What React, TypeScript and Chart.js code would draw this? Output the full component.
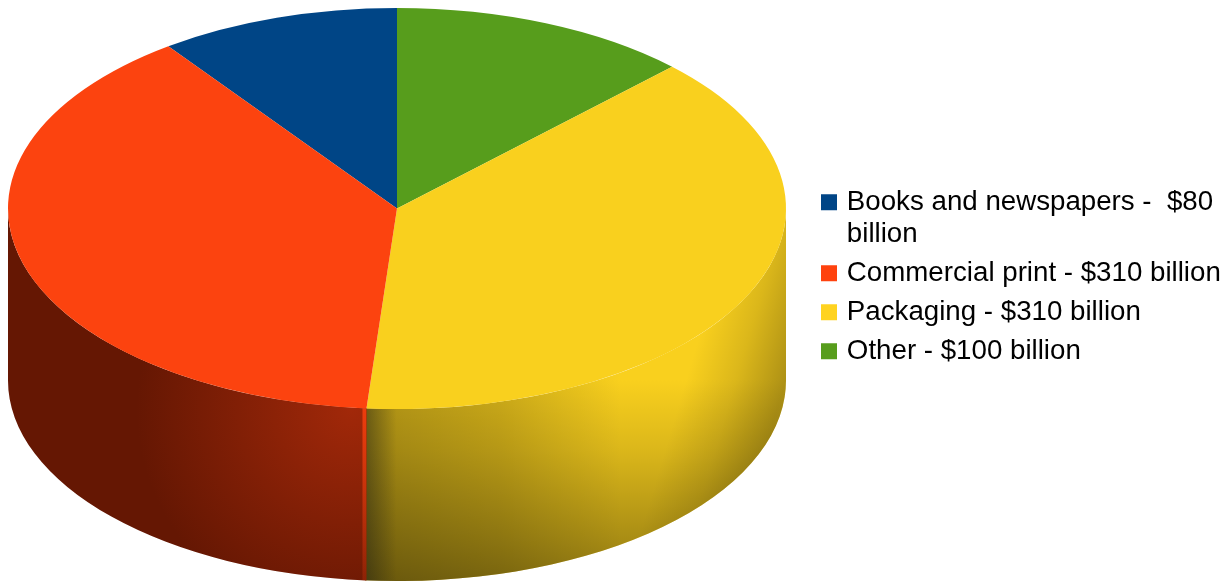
import React, { useEffect, useRef } from "react";
import { Chart, registerables } from "chart.js";

Chart.register(...registerables);

// Slices in clockwise order, starting from the rotation angle.
const sliceNames = ["Books and newspapers", "Other", "Packaging", "Commercial print"];
const sliceValues = [80, 100, 310, 310];
const topColors = ["#004586", "#579d1c", "#f9d01e", "#fc430f"];

// Legend rows, in the order they are listed beside the pie.
const legendOrder = ["Books and newspapers", "Commercial print", "Packaging", "Other"];
const legendText = [
  ["Books and newspapers -  $80", "billion"],
  ["Commercial print - $310 billion"],
  ["Packaging - $310 billion"],
  ["Other - $100 billion"],
];
const legendColors = ["#004586", "#ff420e", "#ffd320", "#579d1c"];

const DEPTH = 172;
const X_STRETCH = 778 / 401;

type Rim = { cx: number; cy: number; rx: number; ry: number; a0: number; a1: number };

function wallPath(ctx: CanvasRenderingContext2D, r: Rim) {
  ctx.beginPath();
  ctx.ellipse(r.cx, r.cy, r.rx, r.ry, 0, r.a0, r.a1);
  ctx.ellipse(r.cx, r.cy + DEPTH, r.rx, r.ry, 0, r.a1, r.a0, true);
  ctx.closePath();
}

function shadeRed(ctx: CanvasRenderingContext2D, r: Rim, seamX: number) {
  const bottom = r.cy + r.ry + DEPTH;
  ctx.fillStyle = "#651703";
  ctx.fillRect(r.cx - r.rx, r.cy, r.rx * 2, r.ry + DEPTH);
  const top = r.cy + r.ry;
  const glow = ctx.createRadialGradient(seamX - 15, top, 0, seamX - 15, top, 215);
  glow.addColorStop(0, "rgba(168,42,10,0.9)");
  glow.addColorStop(1, "rgba(168,42,10,0)");
  ctx.fillStyle = glow;
  ctx.fillRect(r.cx - r.rx, r.cy, r.rx * 2, r.ry + DEPTH);
  const sliver = ctx.createLinearGradient(0, top, 0, bottom);
  sliver.addColorStop(0, "rgba(255,66,14,0.8)");
  sliver.addColorStop(1, "rgba(255,66,14,0.2)");
  ctx.fillStyle = sliver;
  ctx.fillRect(seamX - 4, top - 4, 4, DEPTH + 8);
}

function shadeYellow(ctx: CanvasRenderingContext2D, r: Rim, seamX: number) {
  const left = seamX - 2;
  const w = r.cx + r.rx - left;
  const y = r.cy;
  const h = r.ry + DEPTH;
  ctx.fillStyle = "#f9d01e";
  ctx.fillRect(left, y, w, h);

  ctx.globalCompositeOperation = "multiply";

  const across = ctx.createLinearGradient(seamX, 0, 620, 0);
  across.addColorStop(0, "rgb(184,184,184)");
  across.addColorStop(0.53, "rgb(212,212,212)");
  across.addColorStop(1, "rgb(255,255,255)");
  ctx.fillStyle = across;
  ctx.fillRect(left, y, w, h);

  const down = ctx.createLinearGradient(0, 380, 0, 581);
  down.addColorStop(0, "rgb(255,255,255)");
  down.addColorStop(0.35, "rgb(224,224,224)");
  down.addColorStop(0.8, "rgb(172,172,172)");
  down.addColorStop(1, "rgb(148,148,148)");
  ctx.fillStyle = down;
  ctx.fillRect(left, y, w, h);

  const rimShade = ctx.createLinearGradient(800, 0, 891.7, 27.5);
  rimShade.addColorStop(0, "rgb(255,255,255)");
  rimShade.addColorStop(0.5, "rgb(224,224,224)");
  rimShade.addColorStop(1, "rgb(178,178,178)");
  ctx.fillStyle = rimShade;
  ctx.fillRect(left, y, w, h);

  ctx.globalCompositeOperation = "source-over";

  const seam = ctx.createLinearGradient(seamX, 0, seamX + 30, 0);
  seam.addColorStop(0, "rgba(30,30,20,0.45)");
  seam.addColorStop(1, "rgba(30,30,20,0)");
  ctx.fillStyle = seam;
  ctx.fillRect(seamX, y, 30, h);
}

// Draws the visible cylinder wall under the pie, then stretches the round
// arcs that Chart.js draws into the flattened top face.
const extrudedPie = {
  id: "extrudedPie",
  afterLayout(chart: any) {
    const area = chart.chartArea;
    area.right = 786;
    area.width = area.right - area.left;
    chart.legend.left = 818;
    chart.legend.top = 181.5;
  },
  beforeDatasetsDraw(chart: any) {
    const { ctx } = chart;
    const arcs = chart.getDatasetMeta(0).data;
    arcs.forEach((arc: any, i: number) => {
      const { x, y, startAngle, endAngle, outerRadius } = arc.getProps(
        ["x", "y", "startAngle", "endAngle", "outerRadius"],
        true
      );
      const isPackaging = sliceNames[i] === "Packaging";
      for (const shift of [-2 * Math.PI, 0, 2 * Math.PI]) {
        const a0 = Math.max(startAngle + shift, 0);
        const a1 = Math.min(endAngle + shift, Math.PI);
        if (a1 <= a0) continue;
        const rim: Rim = {
          cx: x,
          cy: y,
          rx: outerRadius * X_STRETCH,
          ry: outerRadius,
          a0,
          a1: isPackaging ? a1 + 0.004 : a1,
        };
        const seamX = x + rim.rx * Math.cos(isPackaging ? a1 : a0);
        ctx.save();
        wallPath(ctx, rim);
        ctx.clip();
        if (isPackaging) shadeYellow(ctx, rim, seamX);
        else shadeRed(ctx, rim, seamX);
        ctx.restore();
      }
    });
    const first = arcs[0];
    ctx.save();
    ctx.translate(first.x, first.y);
    ctx.scale(X_STRETCH, 1);
    ctx.translate(-first.x, -first.y);
  },
  afterDatasetsDraw(chart: any) {
    chart.ctx.restore();
  },
};

export default function App() {
  const ref = useRef<HTMLCanvasElement>(null);

  useEffect(() => {
    if (!ref.current) return;
    const chart = new Chart(ref.current, {
      type: "pie",
      data: {
        labels: sliceNames,
        datasets: [
          {
            data: sliceValues,
            backgroundColor: topColors,
            borderWidth: 0,
            clip: false,
          } as any,
        ],
      },
      options: {
        animation: false,
        responsive: false,
        rotation: -36,
        layout: { padding: { left: 8, top: 8, bottom: 172, right: 0 } },
        plugins: {
          tooltip: { enabled: false },
          legend: {
            position: "right",
            align: "start",
            onClick: () => {},
            labels: {
              font: { family: "'Liberation Sans'", size: 27.7, lineHeight: 32 / 27.7 },
              color: "#000000",
              boxWidth: 8,
              boxHeight: 8,
              padding: 7,
              generateLabels: () =>
                legendOrder.map((name, i) => ({
                  text: legendText[i] as any,
                  fillStyle: legendColors[i],
                  strokeStyle: legendColors[i],
                  lineWidth: 8,
                  index: sliceNames.indexOf(name),
                  hidden: false,
                })),
            },
          },
        },
      },
      plugins: [extrudedPie],
    });
    return () => chart.destroy();
  }, []);

  return (
    <canvas
      ref={ref}
      width={1228}
      height={581}
      style={{ position: "fixed", left: 0, top: 0, display: "block" }}
    />
  );
}
